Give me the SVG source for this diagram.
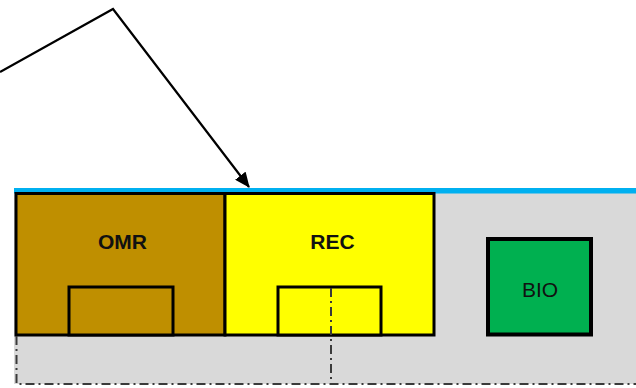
<svg xmlns="http://www.w3.org/2000/svg" width="636" height="388" viewBox="0 0 636 388">
<defs>
<style>
.box{stroke:#000;stroke-width:3}
.lbl{font-family:"Liberation Sans",Arial,sans-serif;font-size:21px;font-weight:bold;fill:#111;text-anchor:middle}
.dd{fill:none;stroke:#3a3a3a;stroke-width:2;stroke-dasharray:9 4 2 4}
</style>
<marker id="ah" markerWidth="7" markerHeight="6" refX="6.5" refY="3" orient="auto" markerUnits="strokeWidth">
<path d="M0,0 L7,3 L0,6 Z" fill="#000"/>
</marker>
</defs>
<rect width="636" height="388" fill="#fff"/>
<g id="ground">
<rect x="14" y="190" width="622" height="194" fill="#D9D9D9"/>
<rect x="14" y="188" width="622" height="5.5" fill="#00B0F0"/>
</g>
<g id="OMR">
<rect class="box" x="16" y="193.5" width="209" height="141.5" fill="#BF8F00"/>
<rect class="box" x="69" y="287" width="104" height="48" fill="#BF8F00"/>
<text class="lbl" x="122.5" y="248.5">OMR</text>
</g>
<g id="REC">
<rect class="box" x="225" y="193.5" width="209" height="141.5" fill="#FFFF00"/>
<rect class="box" x="278" y="287" width="103" height="48" fill="#FFFF00"/>
<text class="lbl" x="332.5" y="248.5">REC</text>
</g>
<g id="BIO">
<rect x="488" y="239" width="103" height="95.5" fill="#00B050" stroke="#000" stroke-width="4"/>
<text class="lbl" x="540" y="296.5" style="font-weight:normal">BIO</text>
</g>
<g id="connectors">
<path class="dd" d="M16.5,336 V384 H636"/>
<path class="dd" d="M331,288 V384"/>
<polyline points="0,72 113,9 249,187" fill="none" stroke="#000" stroke-width="2.2" marker-end="url(#ah)"/>
</g>
</svg>
